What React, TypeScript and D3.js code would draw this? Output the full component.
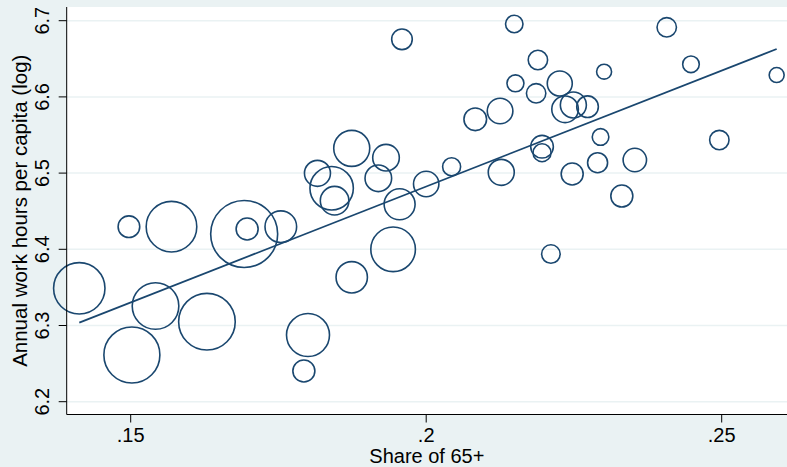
import React from 'react';
import * as d3 from 'd3';

// Share of population aged 65+
const shareOld = [
  0.1413, 0.1497, 0.1502, 0.1542, 0.1569, 0.1629, 0.1692, 0.1697, 0.1754, 0.18,
  0.1793, 0.1816, 0.184, 0.1845, 0.1874, 0.1874, 0.1919, 0.1932, 0.1944, 0.1955,
  0.1959, 0.2, 0.2043, 0.2083, 0.2125, 0.2127, 0.2149, 0.2151, 0.2186, 0.2189,
  0.2196, 0.2196, 0.2211, 0.2226, 0.2235, 0.2247, 0.2249, 0.2273, 0.229, 0.2295,
  0.2301, 0.2331, 0.2353, 0.2407, 0.2448, 0.2496, 0.2593,
];
// Annual work hours per capita (log)
const logHours = [
  6.3488, 6.4297, 6.2613, 6.3256, 6.4297, 6.305, 6.4201, 6.4266, 6.4297, 6.2875,
  6.2403, 6.4997, 6.4801, 6.4638, 6.5325, 6.3633, 6.4932, 6.5202, 6.4, 6.4591,
  6.6756, 6.4857, 6.5084, 6.5706, 6.5815, 6.501, 6.6957, 6.6178, 6.6047, 6.6484,
  6.5346, 6.5268, 6.3938, 6.6176, 6.5837, 6.4988, 6.5894, 6.5871, 6.5136, 6.5474,
  6.6331, 6.4699, 6.5172, 6.6913, 6.6428, 6.5434, 6.6287,
];
// Marker weights (population-like)
const weights = [
  660, 117, 784, 543, 640, 801, 1122, 121, 250, 462,
  121, 169, 471, 204, 324, 246, 177, 177, 497, 240,
  106, 161, 81, 128, 164, 169, 76, 72, 94, 94,
  128, 81, 86, 156, 177, 121, 169, 117, 100, 69,
  56, 121, 137, 94, 69, 94, 56,
];

const xTicks = [0.15, 0.2, 0.25];
const xTickLabels = ['.15', '.2', '.25'];
const yTicks = [6.2, 6.3, 6.4, 6.5, 6.6, 6.7];
const yTickLabels = ['6.2', '6.3', '6.4', '6.5', '6.6', '6.7'];
const xTitle = 'Share of 65+';
const yTitle = 'Annual work hours per capita (log)';
const fitIntercept = 5.8736;
const fitSlope = 3.044;

export default function App() {
  const W = 787;
  const H = 467;
  const plot = { left: 66.7, top: 7, right: 790, bottom: 414.5 };
  const navy = '#1a476f';
  const bg = '#eaf2f3';
  const font = '"Liberation Sans", Arial, Helvetica, sans-serif';

  const x = d3.scaleLinear().domain([0.15, 0.25]).range([130.7, 721.7]);
  const y = d3.scaleLinear().domain([6.2, 6.7]).range([401.7, 20.7]);
  const r = d3.scaleSqrt().domain([0, 1000]).range([0, Math.sqrt(1000)]);

  const pts = shareOld.map((s, i) => ({ s, h: logHours[i], w: weights[i] }));
  const xExt = d3.extent(shareOld) as [number, number];
  const fitPts: [number, number][] = xExt.map((v) => [v, fitIntercept + fitSlope * v]);
  const line = d3
    .line<[number, number]>()
    .x((d) => x(d[0]))
    .y((d) => y(d[1]));

  return (
    <svg
      width={W}
      height={H}
      style={{ position: 'absolute', left: 0, top: 0, display: 'block' }}
    >
      <rect x={0} y={0} width={W} height={H} fill={bg} />
      <rect
        x={plot.left}
        y={plot.top}
        width={plot.right - plot.left}
        height={plot.bottom - plot.top}
        fill="#ffffff"
      />
      {yTicks.map((t) => (
        <line
          key={'g' + t}
          x1={plot.left}
          x2={plot.right}
          y1={y(t)}
          y2={y(t)}
          stroke={bg}
          strokeWidth={1.5}
        />
      ))}
      {pts.map((p, i) => (
        <circle
          key={i}
          cx={x(p.s)}
          cy={y(p.h)}
          r={r(p.w)}
          fill="none"
          stroke={navy}
          strokeWidth={1.6}
        />
      ))}
      <path d={line(fitPts) || ''} fill="none" stroke={navy} strokeWidth={1.8} />
      <line x1={plot.left} x2={plot.left} y1={plot.top} y2={plot.bottom} stroke="#000" strokeWidth={1} />
      <line x1={plot.left} x2={plot.right} y1={plot.bottom} y2={plot.bottom} stroke="#000" strokeWidth={1} />
      {yTicks.map((t, i) => (
        <g key={'y' + t}>
          <line x1={plot.left - 8} x2={plot.left} y1={y(t)} y2={y(t)} stroke="#000" strokeWidth={1} />
          <text
            transform={`translate(49, ${y(t)}) rotate(-90)`}
            textAnchor="middle"
            fontFamily={font}
            fontSize={20}
            fill="#000"
          >
            {yTickLabels[i]}
          </text>
        </g>
      ))}
      {xTicks.map((t, i) => (
        <g key={'x' + t}>
          <line x1={x(t)} x2={x(t)} y1={plot.bottom} y2={plot.bottom + 8} stroke="#000" strokeWidth={1} />
          <text
            x={x(t)}
            y={442}
            textAnchor="middle"
            fontFamily={font}
            fontSize={20}
            fill="#000"
          >
            {xTickLabels[i]}
          </text>
        </g>
      ))}
      <text
        x={(plot.left + 787) / 2}
        y={462.8}
        textAnchor="middle"
        fontFamily={font}
        fontSize={20}
        fill="#000"
      >
        {xTitle}
      </text>
      <text
        transform={`translate(26.5, ${(plot.top + plot.bottom) / 2}) rotate(-90)`}
        textAnchor="middle"
        fontFamily={font}
        fontSize={20.5}
        fill="#000"
      >
        {yTitle}
      </text>
    </svg>
  );
}
